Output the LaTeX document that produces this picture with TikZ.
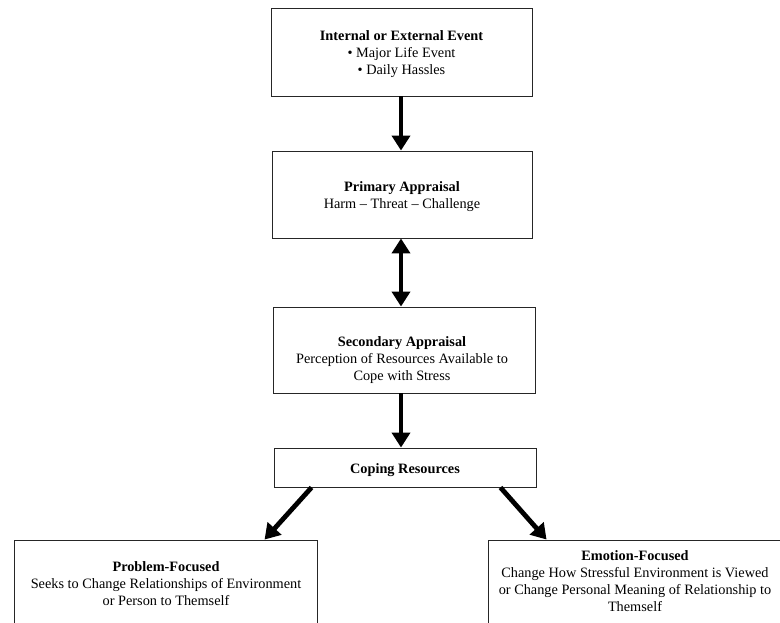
\documentclass[tikz,border=0pt]{standalone}
\usepackage{fontspec}
\setmainfont{Liberation Serif}
\usetikzlibrary{arrows.meta,calc}
\begin{document}
\begin{tikzpicture}[x=1pt,y=-1pt,
  box/.style={draw=black!85,line width=0.9pt,rectangle,inner sep=0pt},
  txt/.style={align=center,font=\fontsize{14.3}{17}\selectfont,inner sep=0pt},
  bigarrow/.style={line width=4.8pt,-{Triangle[width=18pt,length=15pt]}},
  dblarrow/.style={line width=4.8pt,{Triangle[width=18pt,length=15pt]}-{Triangle[width=18pt,length=15pt]}}]
\useasboundingbox (0,0) rectangle (780,622);
\clip (0,0) rectangle (780,622);
% boxes
\node[box,minimum width=261pt,minimum height=88pt] (ev) at (401.5,52) {};
\node[box,minimum width=260pt,minimum height=87pt] (pa) at (402,194.5) {};
\node[box,minimum width=262pt,minimum height=86pt] (sa) at (404,350) {};
\node[box,minimum width=262pt,minimum height=39pt] (cr) at (405,467.5) {};
\node[box,minimum width=303pt,minimum height=90pt] (pf) at (165.5,585) {};
\node[box,minimum width=298pt,minimum height=90pt] (ef) at (637,585) {};
% texts
\node[txt] (evt) at (401.5,54) {\textbf{Internal or External Event}\\ • Major Life Event\\ • Daily Hassles};
\node[txt] (pat) at (402,196.5) {\textbf{Primary Appraisal}\\ Harm – Threat – Challenge};
\node[txt] (sat) at (402,360) {\textbf{Secondary Appraisal}\\ Perception of Resources Available to\\ Cope with Stress};
\node[txt] (crt) at (405,470) {\textbf{Coping Resources}};
\node[txt] (pft) at (166,584) {\textbf{Problem-Focused}\\ Seeks to Change Relationships of Environment\\ or Person to Themself};
\node[txt] (eft) at (635,581.5) {\textbf{Emotion-Focused}\\ Change How Stressful Environment is Viewed\\ or Change Personal Meaning of Relationship to\\ Themself};
% arrows
\draw[bigarrow] (ev.south -| 401,0) -- (pa.north -| 401,0);
\draw[dblarrow] (pa.south -| 401,0) -- (sa.north -| 401,0);
\draw[bigarrow] (sa.south -| 401,0) -- (cr.north -| 401,0);
\draw[bigarrow] ([xshift=38pt]cr.south west) -- ([xshift=251pt]pf.north west);
\draw[bigarrow] ([xshift=-36pt]cr.south east) -- ([xshift=59pt]ef.north west);
\end{tikzpicture}
\end{document}
